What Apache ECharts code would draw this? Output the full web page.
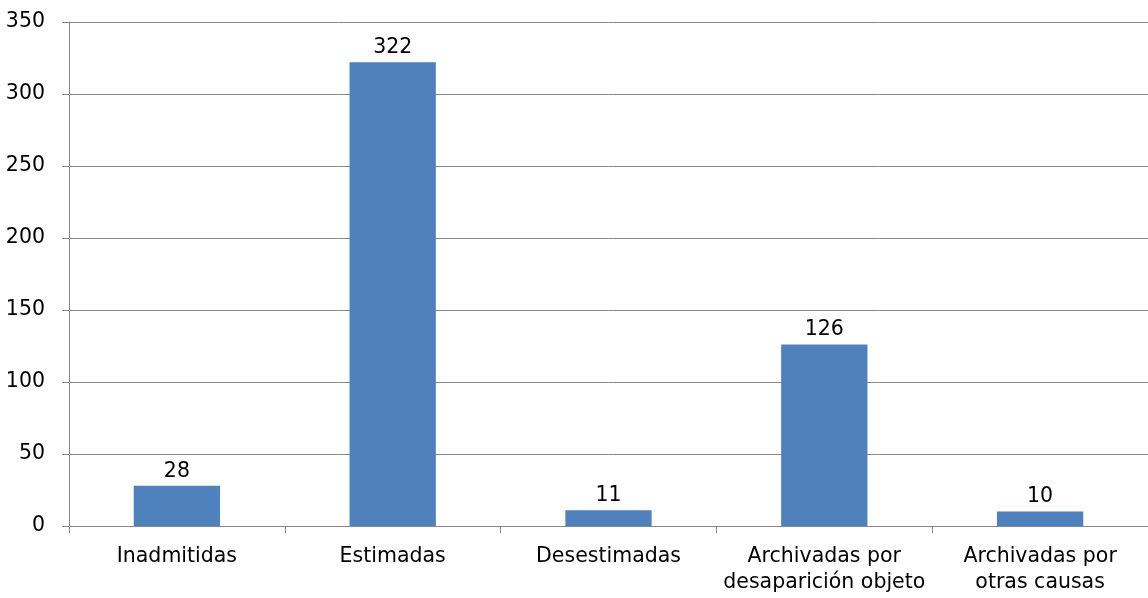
<!DOCTYPE html>
<html><head><meta charset="utf-8">
<script src="https://cdn.jsdelivr.net/npm/echarts@6/dist/echarts.min.js"></script>
<style>html,body{margin:0;padding:0;background:#fff}#c{width:1148px;height:598px}</style>
</head><body><div id="c"></div>
<script>
const categories = ['Inadmitidas', 'Estimadas', 'Desestimadas', 'Archivadas por\ndesaparición objeto', 'Archivadas por\notras causas'];
const values = [28, 322, 11, 126, 10];
const yTicks = [0, 50, 100, 150, 200, 250, 300, 350];

const font = 'DejaVu Sans';
const chart = echarts.init(document.getElementById('c'), null, {renderer: 'canvas'});
chart.setOption({
  animation: false,
  backgroundColor: '#fff',
  grid: {left: 69, right: 0, top: 22, bottom: 72, containLabel: false},
  xAxis: {
    type: 'category',
    data: categories,
    axisLine: {lineStyle: {color: '#868686', width: 1}},
    axisTick: {show: true, length: 7, lineStyle: {color: '#868686'}},
    axisLabel: {color: '#000', fontFamily: font, fontSize: 20.5, lineHeight: 26, margin: 18, interval: 0}
  },
  yAxis: {
    type: 'value',
    min: yTicks[0], max: yTicks[yTicks.length - 1], interval: 50,
    axisLine: {show: true, lineStyle: {color: '#868686', width: 1}},
    axisTick: {show: true, length: 7, lineStyle: {color: '#868686'}},
    splitLine: {lineStyle: {color: '#868686', width: 1}},
    axisLabel: {color: '#000', fontFamily: font, fontSize: 20.5, margin: 24}
  },
  series: [{
    type: 'bar',
    data: values,
    barWidth: '40%',
    itemStyle: {color: '#4F81BD'},
    label: {show: true, position: 'top', color: '#000', fontFamily: font, fontSize: 20.5, distance: 4}
  }]
});
</script></body></html>
